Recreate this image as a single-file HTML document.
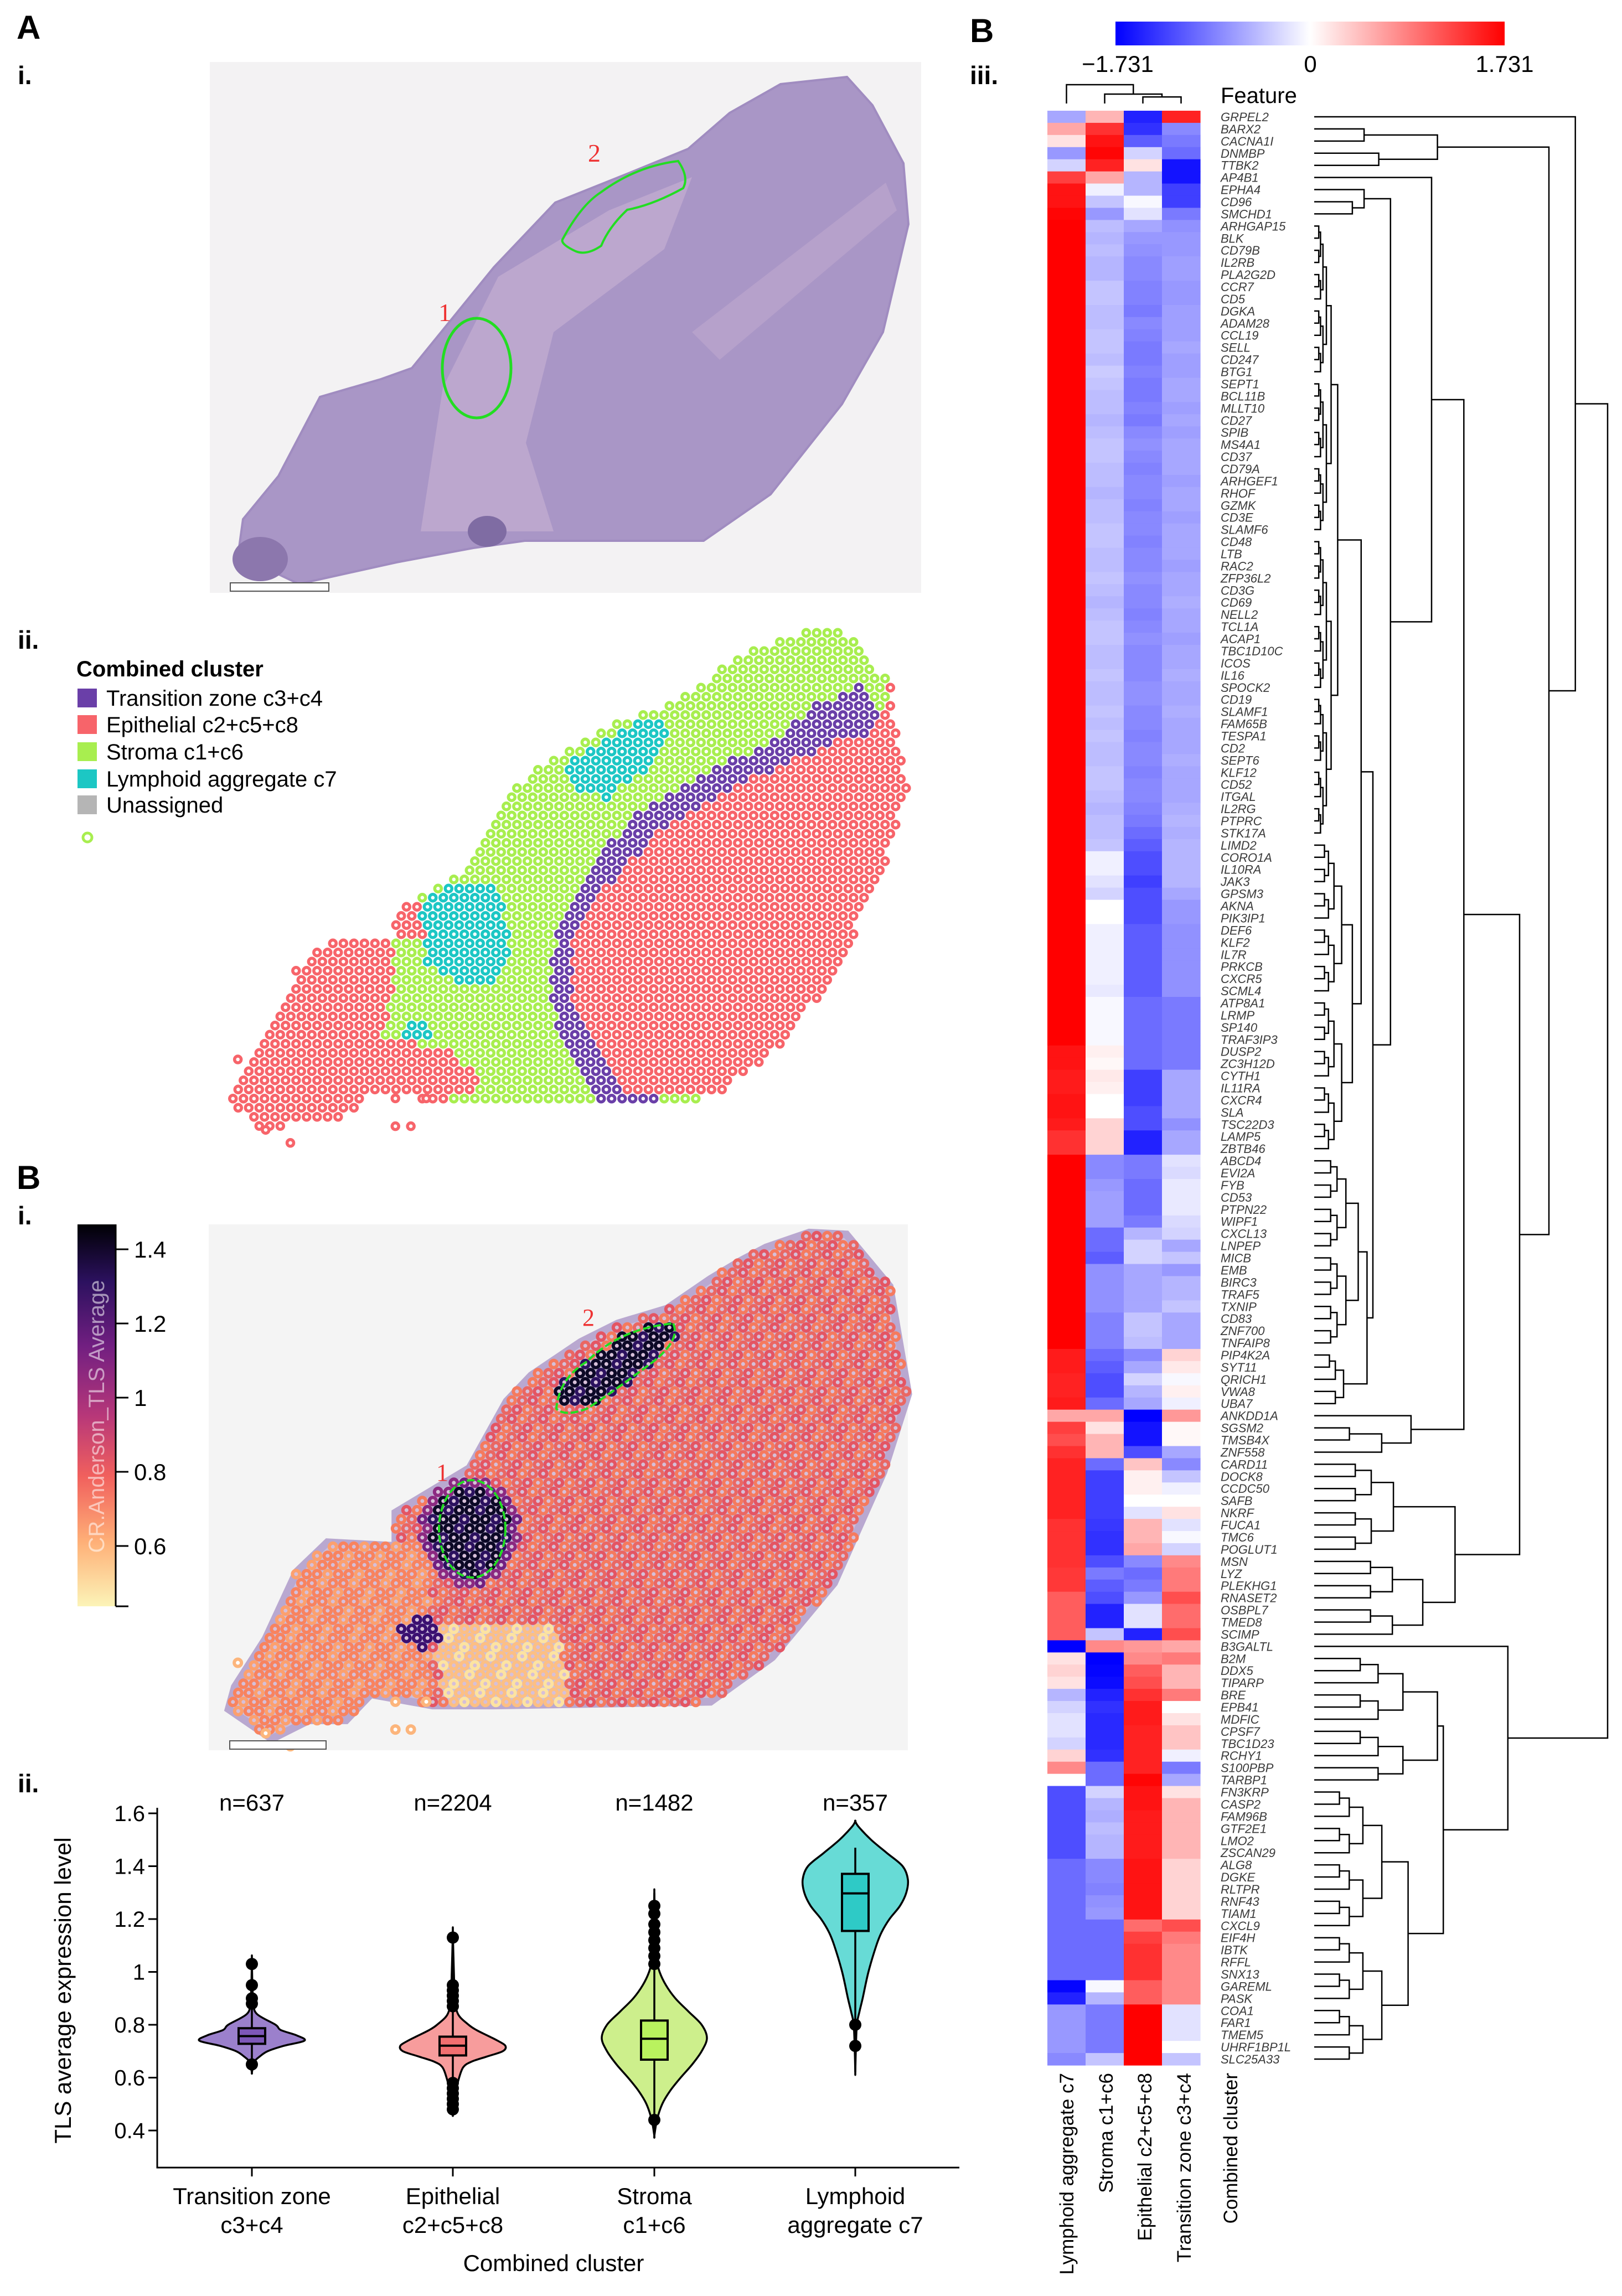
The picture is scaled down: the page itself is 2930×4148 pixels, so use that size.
<!DOCTYPE html>
<html><head><meta charset="utf-8">
<style>
html,body{margin:0;padding:0;background:#fff;}
svg{display:block;font-family:"Liberation Sans",Arial,sans-serif;}
</style></head>
<body>
<svg id="fig" xmlns="http://www.w3.org/2000/svg" width="2930" height="4148" viewBox="0 0 2930 4148">
<defs>
<linearGradient id="bwr" x1="0" x2="1" y1="0" y2="0">
<stop offset="0" stop-color="#0000ff"/><stop offset="0.5" stop-color="#ffffff"/><stop offset="1" stop-color="#ff0000"/>
</linearGradient>
<linearGradient id="magma" x1="0" x2="0" y1="0" y2="1">
<stop offset="0" stop-color="#000004"/><stop offset="0.15" stop-color="#2c115f"/><stop offset="0.32" stop-color="#721f81"/><stop offset="0.5" stop-color="#b73779"/><stop offset="0.66" stop-color="#f1605d"/><stop offset="0.83" stop-color="#feaf77"/><stop offset="1" stop-color="#fcf4b8"/>
</linearGradient>
</defs>

<text x="30" y="70" font-size="60" font-weight="bold">A</text>
<text x="32" y="152" font-size="46" font-weight="bold">i.</text>
<text x="32" y="1172" font-size="46" font-weight="bold">ii.</text>
<text x="30" y="2148" font-size="60" font-weight="bold">B</text>
<text x="32" y="2212" font-size="46" font-weight="bold">i.</text>
<text x="32" y="3238" font-size="46" font-weight="bold">ii.</text>
<text x="1752" y="76" font-size="60" font-weight="bold">B</text>
<text x="1752" y="152" font-size="46" font-weight="bold">iii.</text>

<g id="he">
<rect x="379" y="112" width="1285" height="959" fill="#f3f2f3"/>
<polygon id="tissueA" fill="#a996c6" stroke="#a08cc0" stroke-width="4"
points="1530,139 1576,190 1632,295 1641,405 1595,600 1521,730 1392,893 1271,977 948,977 855,990 716,1016 540,1055 430,1003 439,938 503,860 578,717 688,685 744,665 818,574 892,483 1003,366 1133,314 1243,269 1318,204 1410,152"/>
<path d="M760,960 L800,700 L900,500 L1100,380 L1250,320 L1200,450 L1000,600 L950,800 L1000,960 Z" fill="#c4aed2" opacity="0.7"/>
<path d="M1250,600 L1600,330 L1620,380 L1300,650 Z" fill="#c4acd0" opacity="0.5"/>
<ellipse cx="470" cy="1010" rx="50" ry="40" fill="#8c77ad"/>
<ellipse cx="880" cy="960" rx="35" ry="28" fill="#7f6ca3"/>
<ellipse cx="861" cy="665" rx="62" ry="90" fill="none" stroke="#22dd22" stroke-width="5"/>
<path d="M1225,291 Q1245,320 1234,340 Q1180,370 1133,379 Q1100,410 1086,444 Q1060,462 1040,454 Q1010,440 1017,431 Q1050,370 1086,347 Q1150,300 1225,291 Z" fill="none" stroke="#22dd22" stroke-width="4"/>
<text x="792" y="580" font-size="46" fill="#e33" font-family="Liberation Serif">1</text>
<text x="1062" y="292" font-size="46" fill="#e33" font-family="Liberation Serif">2</text>
<rect x="416" y="1053" width="178" height="15" fill="#fff" stroke="#555" stroke-width="2"/>
</g>

<g>
<text x="138" y="1222" font-size="40" font-weight="bold">Combined cluster</text>
<rect x="140" y="1244" width="35" height="34" fill="#6a3fa8"/>
<text x="192" y="1275" font-size="40">Transition zone c3+c4</text>
<rect x="140" y="1292" width="35" height="34" fill="#f7646a"/>
<text x="192" y="1323" font-size="40">Epithelial c2+c5+c8</text>
<rect x="140" y="1341" width="35" height="34" fill="#a8ee4f"/>
<text x="192" y="1372" font-size="40">Stroma c1+c6</text>
<rect x="140" y="1390" width="35" height="34" fill="#1cc7c4"/>
<text x="192" y="1421" font-size="40">Lymphoid aggregate c7</text>
<rect x="140" y="1437" width="35" height="34" fill="#b5b5b5"/>
<text x="192" y="1468" font-size="40">Unassigned</text>
<circle cx="158" cy="1513" r="8" fill="#fff" stroke="#a8ee4f" stroke-width="5"/>
</g>
<g id="spotsA"></g>

<rect x="377" y="2212" width="1263" height="950" fill="#f4f4f4"/>
<g id="spotsB"></g>
<ellipse cx="853" cy="2762" rx="60" ry="88" fill="none" stroke="#22dd22" stroke-width="4" stroke-dasharray="14 5"/>
<path d="M1216,2391 Q1230,2420 1180,2460 Q1100,2520 1060,2545 Q1020,2560 1005,2545 Q1010,2490 1060,2460 Q1120,2400 1216,2391 Z" fill="none" stroke="#22dd22" stroke-width="4" stroke-dasharray="14 5"/>
<text x="788" y="2675" font-size="44" fill="#e33" font-family="Liberation Serif">1</text>
<text x="1052" y="2395" font-size="44" fill="#e33" font-family="Liberation Serif">2</text>
<rect x="415" y="3145" width="174" height="15" fill="#fff" stroke="#555" stroke-width="2"/>
<g>
<rect x="140" y="2212" width="69" height="690" fill="url(#magma)"/>
<text transform="translate(188,2559) rotate(-90)" text-anchor="middle" font-size="40" fill="#ffffff" fill-opacity="0.55">CR.Anderson_TLS Average</text>
<line x1="209" y1="2212" x2="209" y2="2902" stroke="#000" stroke-width="3"/>
<g id="cbTicks"></g>
</g>

<g id="violin"></g>

<g>
<rect x="2015" y="39" width="703" height="43" fill="url(#bwr)"/>
<text x="2019" y="130" font-size="42" text-anchor="middle">−1.731</text>
<text x="2367" y="130" font-size="42" text-anchor="middle">0</text>
<text x="2718" y="130" font-size="42" text-anchor="middle">1.731</text>
</g>
<text x="2205" y="186" font-size="40">Feature</text>
<g id="heat"></g>
<g id="rowDendro"></g>
<g id="colDendro"></g>
<g id="colLabels"></g>
</svg>

<script>
const NS='http://www.w3.org/2000/svg';
function mk(tag,attrs,parent){const e=document.createElementNS(NS,tag);for(const k in attrs)e.setAttribute(k,attrs[k]);parent.appendChild(e);return e;}

const genes=["GRPEL2","BARX2","CACNA1I","DNMBP","TTBK2","AP4B1","EPHA4","CD96","SMCHD1","ARHGAP15","BLK","CD79B","IL2RB","PLA2G2D","CCR7","CD5","DGKA","ADAM28","CCL19","SELL","CD247","BTG1","SEPT1","BCL11B","MLLT10","CD27","SPIB","MS4A1","CD37","CD79A","ARHGEF1","RHOF","GZMK","CD3E","SLAMF6","CD48","LTB","RAC2","ZFP36L2","CD3G","CD69","NELL2","TCL1A","ACAP1","TBC1D10C","ICOS","IL16","SPOCK2","CD19","SLAMF1","FAM65B","TESPA1","CD2","SEPT6","KLF12","CD52","ITGAL","IL2RG","PTPRC","STK17A","LIMD2","CORO1A","IL10RA","JAK3","GPSM3","AKNA","PIK3IP1","DEF6","KLF2","IL7R","PRKCB","CXCR5","SCML4","ATP8A1","LRMP","SP140","TRAF3IP3","DUSP2","ZC3H12D","CYTH1","IL11RA","CXCR4","SLA","TSC22D3","LAMP5","ZBTB46","ABCD4","EVI2A","FYB","CD53","PTPN22","WIPF1","CXCL13","LNPEP","MICB","EMB","BIRC3","TRAF5","TXNIP","CD83","ZNF700","TNFAIP8","PIP4K2A","SYT11","QRICH1","VWA8","UBA7","ANKDD1A","SGSM2","TMSB4X","ZNF558","CARD11","DOCK8","CCDC50","SAFB","NKRF","FUCA1","TMC6","POGLUT1","MSN","LYZ","PLEKHG1","RNASET2","OSBPL7","TMED8","SCIMP","B3GALTL","B2M","DDX5","TIPARP","BRE","EPB41","MDFIC","CPSF7","TBC1D23","RCHY1","S100PBP","TARBP1","FN3KRP","CASP2","FAM96B","GTF2E1","LMO2","ZSCAN29","ALG8","DGKE","RLTPR","RNF43","TIAM1","CXCL9","EIF4H","IBTK","RFFL","SNX13","GAREML","PASK","COA1","FAR1","TMEM5","UHRF1BP1L","SLC25A33"];
const heatColumns=["Lymphoid aggregate c7","Stroma c1+c6","Epithelial c2+c5+c8","Transition zone c3+c4"];
const valsLymphoid=[-0.6,0.6,0.2,-0.7,-0.3,1.3,1.6,1.6,1.7,
1.73,1.73,1.73,1.73,1.73,1.73,1.73,1.73,1.73,1.73,1.73,1.73,1.73,1.73,1.73,1.73,1.73,1.73,1.73,1.73,1.73,1.73,1.73,1.73,1.73,1.73,1.73,1.73,1.73,1.73,1.73,1.73,1.73,1.73,1.73,1.73,1.73,1.73,1.73,1.73,1.73,1.73,1.73,1.73,1.73,1.73,1.73,1.73,1.73,1.73,1.73,
1.73,1.73,1.73,1.73,1.73,1.73,1.73,1.73,1.73,1.73,1.73,1.73,1.73,1.73,1.73,1.73,1.73,
1.6,1.6,1.55,1.55,1.6,1.6,1.55,1.4,1.4,
1.73,1.73,1.73,1.73,1.73,1.73,1.73,1.73,1.73,1.73,1.73,1.73,1.73,1.73,1.73,1.73,
1.55,1.55,1.5,1.5,1.55,
0.6,1.3,1.2,1.4,1.5,1.5,1.5,1.5,1.5,1.4,1.4,1.4,1.4,1.35,1.35,1.1,1.1,1.1,1.1,
-1.73,0.2,0.3,0.2,-0.5,-0.3,-0.2,-0.2,-0.3,0.3,0.8,0.0,
-1.2,-1.2,-1.2,-1.2,-1.2,-1.2,-1.0,-1.0,-1.0,-1.0,-1.0,-1.0,-1.0,-1.0,-1.0,-1.0,-1.7,-1.5,-0.7,-0.7,-0.7,-0.7,-0.8];
const valsStroma=[0.5,1.4,1.6,1.7,1.5,0.6,-0.1,-0.4,-0.7,
-0.45,-0.5,-0.45,-0.5,-0.5,-0.4,-0.4,-0.45,-0.45,-0.4,-0.4,-0.45,-0.35,-0.4,-0.45,-0.45,-0.5,-0.45,-0.4,-0.4,-0.45,-0.45,-0.5,-0.45,-0.45,-0.4,-0.4,-0.45,-0.45,-0.4,-0.45,-0.5,-0.45,-0.4,-0.4,-0.45,-0.45,-0.4,-0.45,-0.45,-0.4,-0.45,-0.4,-0.45,-0.45,-0.4,-0.4,-0.45,-0.5,-0.45,-0.45,
-0.4,-0.1,-0.1,-0.2,-0.3,0.0,0.0,-0.1,-0.1,-0.1,-0.1,-0.1,-0.15,-0.05,-0.05,-0.05,-0.05,0.1,0.05,0.15,0.1,0.0,0.0,0.3,0.3,0.3,
-0.8,-0.8,-0.7,-0.65,-0.65,-0.65,-1.0,-1.0,-1.1,-0.75,-0.75,-0.75,-0.75,-0.85,-0.85,-0.85,-1.0,-1.1,-1.2,-1.2,-1.0,
0.6,0.2,0.5,0.5,-1.0,-1.3,-1.3,-1.3,-1.3,-1.35,-1.4,-1.4,-1.2,-0.9,-1.1,-1.2,-1.5,-1.5,-0.4,
0.8,-1.73,-1.7,-1.65,-1.5,-1.4,-1.45,-1.45,-1.45,-1.4,-1.0,-1.0,
-0.3,-0.5,-0.55,-0.45,-0.5,-0.5,-0.8,-0.8,-0.85,-0.75,-0.7,-1.0,-1.0,-1.0,-1.0,-1.0,-0.05,-0.5,-0.9,-0.9,-0.9,-0.9,-0.4];
const valsEpithelial=[-1.5,-1.4,-1.1,-0.3,0.2,-0.5,-0.5,-0.05,-0.2,
-0.6,-0.7,-0.75,-0.8,-0.8,-0.85,-0.85,-0.9,-0.8,-0.85,-0.9,-0.9,-0.85,-0.9,-0.9,-0.85,-0.9,-0.8,-0.75,-0.8,-0.85,-0.8,-0.8,-0.85,-0.8,-0.8,-0.85,-0.8,-0.8,-0.75,-0.8,-0.8,-0.85,-0.8,-0.75,-0.8,-0.8,-0.8,-0.75,-0.75,-0.8,-0.8,-0.85,-0.8,-0.8,-0.85,-0.8,-0.8,-0.85,-0.9,-1.0,
-1.1,-1.2,-1.2,-1.3,-1.2,-1.2,-1.2,-1.1,-1.1,-1.1,-1.1,-1.1,-1.1,-1.0,-1.0,-1.0,-1.0,-1.0,-1.0,-1.3,-1.3,-1.3,-1.2,-1.2,-1.5,-1.5,
-0.9,-0.9,-1.0,-1.0,-1.0,-0.9,-0.5,-0.3,-0.3,-0.6,-0.6,-0.6,-0.6,-0.4,-0.4,-0.45,-0.8,-0.6,-0.3,-0.5,-0.6,
-1.73,-1.6,-1.6,-1.2,0.4,0.1,0.1,0.0,-0.2,0.5,0.5,0.6,-0.8,-1.0,-0.9,-0.7,-0.2,-0.2,-1.5,
0.7,0.8,1.1,1.2,1.4,1.55,1.55,1.5,1.5,1.5,1.5,1.7,
1.6,1.6,1.55,1.55,1.55,1.55,1.6,1.6,1.6,1.6,1.6,1.0,1.3,1.4,1.4,1.4,1.1,1.1,1.73,1.73,1.73,1.73,1.73];
const valsTransition=[1.5,-0.8,-0.9,-1.0,-1.6,-1.6,-1.3,-1.3,-0.9,
-0.75,-0.7,-0.7,-0.65,-0.65,-0.7,-0.7,-0.65,-0.65,-0.65,-0.6,-0.65,-0.65,-0.6,-0.6,-0.65,-0.6,-0.65,-0.6,-0.6,-0.6,-0.65,-0.6,-0.6,-0.65,-0.6,-0.6,-0.6,-0.65,-0.6,-0.6,-0.55,-0.6,-0.6,-0.65,-0.6,-0.6,-0.55,-0.6,-0.6,-0.55,-0.6,-0.6,-0.6,-0.55,-0.6,-0.6,-0.6,-0.55,-0.5,-0.55,
-0.5,-0.5,-0.5,-0.5,-0.6,-0.7,-0.7,-0.75,-0.75,-0.75,-0.75,-0.75,-0.75,-0.9,-0.9,-0.9,-0.9,-0.9,-0.9,-0.6,-0.6,-0.6,-0.6,-0.75,-0.6,-0.6,
-0.2,-0.25,-0.15,-0.15,-0.15,-0.25,-0.3,-0.6,-0.4,-0.7,-0.5,-0.5,-0.4,-0.6,-0.6,-0.6,0.3,0.15,-0.05,0.1,-0.1,
0.7,0.05,0.05,-0.6,-0.8,-0.4,-0.1,0.0,0.2,-0.2,-0.05,-0.3,0.8,0.9,0.9,1.2,1.0,1.0,1.2,
0.6,0.9,0.5,0.5,0.9,0.0,0.2,0.4,0.4,-0.1,-0.9,-0.6,
0.2,0.5,0.5,0.5,0.5,0.5,0.3,0.3,0.3,0.3,0.3,1.2,0.9,0.8,0.8,0.8,0.8,0.8,-0.2,-0.2,-0.2,0.0,-0.4];
const heatMax=1.731;

const violinCategories=["Transition zone|c3+c4","Epithelial|c2+c5+c8","Stroma|c1+c6","Lymphoid|aggregate c7"];
const violinCounts=["n=637","n=2204","n=1482","n=357"];
const yTicks=[0.4,0.6,0.8,1.0,1.2,1.4,1.6];
const yTickLabels=["0.4","0.6","0.8","1","1.2","1.4","1.6"];
const densY_transition=[0.62,0.66,0.68,0.70,0.72,0.74,0.76,0.78,0.80,0.84,0.88,0.95,1.05];
const densW_transition=[0,0.05,0.15,0.3,0.6,1.0,0.85,0.55,0.45,0.1,0.03,0.01,0];
const densY_epithelial=[0.46,0.5,0.55,0.6,0.64,0.66,0.68,0.70,0.72,0.74,0.76,0.78,0.80,0.84,0.9,1.0,1.15];
const densW_epithelial=[0,0.03,0.06,0.12,0.2,0.35,0.65,0.95,1.0,0.85,0.65,0.45,0.3,0.1,0.04,0.02,0];
const densY_stroma=[0.38,0.44,0.5,0.55,0.6,0.65,0.7,0.75,0.8,0.85,0.9,0.95,1.0,1.05,1.1,1.2,1.3];
const densW_stroma=[0,0.05,0.15,0.3,0.5,0.72,0.9,1.0,0.9,0.65,0.4,0.22,0.1,0.04,0.02,0.01,0];
const densY_lymphoid=[0.62,0.7,0.8,0.85,0.9,1.0,1.1,1.15,1.2,1.25,1.3,1.35,1.4,1.45,1.5,1.55,1.57];
const densW_lymphoid=[0,0.01,0.03,0.08,0.14,0.25,0.4,0.5,0.65,0.85,0.97,1.0,0.9,0.6,0.3,0.06,0];
const boxQ1=[0.728,0.684,0.668,1.155];
const boxMedian=[0.757,0.721,0.747,1.297];
const boxQ3=[0.787,0.755,0.816,1.371];
const whiskerLo=[0.62,0.46,0.38,0.62];
const whiskerHi=[1.05,1.15,1.30,1.47];
const outliers_transition=[1.03,0.95,0.90,0.88,0.65];
const outliers_epithelial=[1.13,0.95,0.93,0.91,0.89,0.87,0.58,0.56,0.54,0.52,0.50,0.48];
const outliers_stroma=[1.25,1.22,1.18,1.15,1.12,1.09,1.06,1.03,0.44];
const outliers_lymphoid=[0.80,0.72];

const cbTickValues=[1.4,1.2,1.0,0.8,0.6];
const cbTickLabels=["1.4","1.2","1","0.8","0.6"];

const heat=document.getElementById('heat');
const hmLeft=1892, hmTop=200, hmBottom=3731, colW=69;
const rowH=(hmBottom-hmTop)/genes.length;
const rowY=i=>hmTop+i*rowH;
const colX=j=>hmLeft+j*colW;
function bwr(v){
  let t=Math.max(-1,Math.min(1,v/heatMax));
  if(t>=0){const c=Math.round(255*(1-t));return `rgb(255,${c},${c})`;}
  const c=Math.round(255*(1+t));return `rgb(${c},${c},255)`;
}
const heatSeries=[valsLymphoid,valsStroma,valsEpithelial,valsTransition];
heatSeries.forEach((vals,j)=>{
  vals.forEach((v,i)=>{
    const r=mk('rect',{x:colX(j),y:rowY(i),width:colW+0.6,height:rowH+0.6,fill:bwr(v)},heat);
    
    
  });
});
genes.forEach((g,i)=>{
  const t=mk('text',{x:2205,y:rowY(i)+rowH/2+8,'font-size':22,'font-style':'italic',fill:'#3a3a3a'},heat);
  t.textContent=g;
  
  
});
const colLabels=document.getElementById('colLabels');
const colLabelX=[1927,1998,2068,2139];
heatColumns.forEach((c,j)=>{
  const t=mk('text',{transform:`translate(${colLabelX[j]+12},3745) rotate(-90)`,'text-anchor':'end','font-size':35},colLabels);
  t.textContent=c;
  
  
});
{
  const t=mk('text',{transform:'translate(2235,3745) rotate(-90)','text-anchor':'end','font-size':35},colLabels);
  t.textContent='Combined cluster';
  
  
}

function bal(a,b,h){ if(a===b) return a; const m=Math.floor((a+b)/2); return {h:h,k:[bal(a,m,h*0.72),bal(m+1,b,h*0.72)]}; }
const N=(h,a,b)=>({h:h,k:[a,b]});
const rowTree=N(100,
  N(89,0,
    N(80, N(42,N(17,1,2),N(22,3,4)),
      N(70,
        N(51,
          N(40,5, N(26, N(17,6,N(13,7,8)), N(20, N(16,bal(9,59,8),bal(60,85,13)), N(18,bal(86,101,15),bal(102,106,10))))),
          N(33,107,N(23,N(12,108,109),110))),
        N(48,bal(111,118,27),bal(119,125,37))))),
  N(66,126, N(44,bal(127,137,42),bal(138,160,32))));
const rd=document.getElementById('rowDendro');
const hx=h=>2374+h*5.3;
function drawNode(n){
  if(typeof n==='number') return {x:hx(0),y:rowY(n)+rowH/2};
  const a=drawNode(n.k[0]), b=drawNode(n.k[1]); const x=hx(n.h);
  const p=mk('path',{d:`M${a.x},${a.y}H${x}V${b.y}H${b.x}`,fill:'none',stroke:'#000','stroke-width':2.5},rd);
  
  
  return {x:x,y:(a.y+b.y)/2};
}
drawNode(rowTree);

const colTree=N(1.0,0,N(0.5,1,N(0.35,2,3)));
const cd=document.getElementById('colDendro');
const cy=h=>187-h*34;
function drawCol(n){
  if(typeof n==='number') return {x:colX(n)+colW/2,y:cy(0)};
  const a=drawCol(n.k[0]), b=drawCol(n.k[1]); const y=cy(n.h);
  const p=mk('path',{d:`M${a.x},${a.y}V${y}H${b.x}V${b.y}`,fill:'none',stroke:'#000','stroke-width':2.5},cd);
  
  
  return {x:(a.x+b.x)/2,y:y};
}
drawCol(colTree);

const vg=document.getElementById('violin');
const yv=v=>3276+(1.6-v)*477.5;
const catX=[455,818,1182,1545];
const vFill=["#9b80cc","#f79c9c","#cdef8c","#67dbd6"];
const bFill=["#7d57b8","#f26f70","#b9f25e","#2ecac6"];
const densYs=[densY_transition,densY_epithelial,densY_stroma,densY_lymphoid];
const densWs=[densW_transition,densW_epithelial,densW_stroma,densW_lymphoid];
const outs=[outliers_transition,outliers_epithelial,outliers_stroma,outliers_lymphoid];
const halfMax=95, boxHalf=24;
{
  const ax=mk('path',{d:`M284,${yv(1.6)-10}V3916H1733`,fill:'none',stroke:'#000','stroke-width':3},vg);
  
  
}
yTicks.forEach((v,i)=>{
  const l=mk('line',{x1:268,x2:284,y1:yv(v),y2:yv(v),stroke:'#000','stroke-width':3},vg);
  
  
  const t=mk('text',{x:262,y:yv(v)+14,'text-anchor':'end','font-size':40},vg);
  t.textContent=yTickLabels[i];
  
  
});
{
  const t=mk('text',{transform:'translate(128,3596) rotate(-90)','text-anchor':'middle','font-size':42},vg);
  t.textContent='TLS average expression level';
  
  
  const t2=mk('text',{x:1000,y:4103,'text-anchor':'middle','font-size':42},vg);
  t2.textContent='Combined cluster';
  
  
}
violinCategories.forEach((c,i)=>{
  const cx=catX[i];
  const ys=densYs[i], ws=densWs[i];
  let pts=[];
  for(let k=0;k<ys.length;k++) pts.push([cx+ws[k]*halfMax,yv(ys[k])]);
  for(let k=ys.length-1;k>=0;k--) pts.push([cx-ws[k]*halfMax,yv(ys[k])]);
  let d=`M${pts[0][0]},${pts[0][1]}`;
  const n=pts.length;
  for(let k=0;k<n;k++){
    const p0=pts[(k-1+n)%n],p1=pts[k],p2=pts[(k+1)%n],p3=pts[(k+2)%n];
    d+=`C${p1[0]+(p2[0]-p0[0])/6},${p1[1]+(p2[1]-p0[1])/6} ${p2[0]-(p3[0]-p1[0])/6},${p2[1]-(p3[1]-p1[1])/6} ${p2[0]},${p2[1]}`;
  }
  const vp=mk('path',{d:d,fill:vFill[i],stroke:'#000','stroke-width':3.5},vg);
  
  
  const wl=mk('line',{x1:cx,x2:cx,y1:yv(whiskerHi[i]),y2:yv(whiskerLo[i]),stroke:'#000','stroke-width':3.5},vg);
  
  
  outs[i].forEach(o=>{
    const c2=mk('circle',{cx:cx,cy:yv(o),r:11,fill:'#000'},vg);
    
    
  });
  const bx=mk('rect',{x:cx-boxHalf,y:yv(boxQ3[i]),width:boxHalf*2,height:yv(boxQ1[i])-yv(boxQ3[i]),fill:bFill[i],stroke:'#000','stroke-width':4},vg);
  
  
  const md=mk('line',{x1:cx-boxHalf,x2:cx+boxHalf,y1:yv(boxMedian[i]),y2:yv(boxMedian[i]),stroke:'#000','stroke-width':4},vg);
  
  
  const xt=mk('line',{x1:cx,x2:cx,y1:3916,y2:3932,stroke:'#000','stroke-width':3},vg);
  
  
  const parts=c.split('|');
  parts.forEach((p,k)=>{
    const t=mk('text',{x:cx,y:3982+k*52,'text-anchor':'middle','font-size':42},vg);
    t.textContent=p;
    
    
  });
  const nt=mk('text',{x:cx,y:3271,'text-anchor':'middle','font-size':42},vg);
  nt.textContent=violinCounts[i];
  
  
});

const cbg=document.getElementById('cbTicks');
const cbY=v=>2257+(1.4-v)*670;
cbTickValues.forEach((v,i)=>{
  const l=mk('line',{x1:209,x2:232,y1:cbY(v),y2:cbY(v),stroke:'#000','stroke-width':3},cbg);
  
  
  const t=mk('text',{x:242,y:cbY(v)+15,'font-size':42},cbg);
  t.textContent=cbTickLabels[i];
  
  
});
{
  const l=mk('line',{x1:209,x2:232,y1:2902,y2:2902,stroke:'#000','stroke-width':3},cbg);
  
  
}

const Z=(p,oy)=>[p[0]*1.116,oy+p[1]*0.67];
const shapeZ=[[1310,55],[1370,60],[1440,200],[1470,490],[1430,700],[1350,1000],[1250,1200],[1150,1320],[980,1325],[800,1330],[700,1330],[600,1300],[560,1370],[500,1370],[440,1420],[370,1340],[380,1280],[430,1150],[480,970],[530,890],[640,900],[640,810],[700,750],[760,690],[820,510],[860,440],[940,350],[1000,300],[1080,260],[1150,180],[1200,130],[1240,95]];
const redRightZ=[[1440,200],[1470,490],[1430,700],[1350,1000],[1250,1200],[1150,1320],[1010,1320],[970,1200],[930,1060],[925,900],[975,760],[1030,660],[1090,570],[1180,490],[1280,410],[1360,350],[1420,330]];
const purpleZ=[[1400,200],[1440,330],[1330,380],[1230,450],[1130,530],[1060,620],[1000,720],[960,850],[970,1000],[1010,1150],[1070,1330],[960,1330],[900,1150],[890,950],[920,800],[960,680],[1040,540],[1150,430],[1250,360],[1330,250]];
const teal1Z=[[720,730],[800,730],[830,880],[810,1000],[760,1030],[690,950],[680,820]];
const teal2Z=[[1040,295],[1095,320],[1060,420],[980,510],[930,500],[920,420],[980,350]];
const teal3Z=[[650,1100],[700,1100],[700,1170],[650,1170]];
const redLeftZ=[[530,885],[640,895],[640,1000],[620,1150],[730,1190],[780,1280],[720,1330],[600,1300],[560,1370],[500,1370],[440,1420],[370,1340],[380,1280],[430,1150],[480,970]];
const redSmallZ=[[635,800],[690,800],[690,880],[635,880]];
const tls2Z=[[1090,290],[1100,330],[1050,420],[970,520],[910,530],[900,470],[950,400],[1020,320]];
const yellowZ=[[700,1100],[900,1100],[920,1320],[720,1330]];
function inPoly(x,y,P){let c=false;for(let i=0,j=P.length-1;i<P.length;j=i++){const xi=P[i][0],yi=P[i][1],xj=P[j][0],yj=P[j][1];if(((yi>y)!==(yj>y))&&(x<(xj-xi)*(y-yi)/(yj-yi)+xi))c=!c;}return c;}
const sA=document.getElementById('spotsA'), sB=document.getElementById('spotsB');
{
  const pts=shapeZ.map(p=>Z(p,2190).join(',')).join(' ');
  const u=mk('polygon',{points:pts,fill:'#cbbfdc',stroke:'#b9a8d0','stroke-width':14},sB);
  
  
}
const dx=19/1.116, dy=16.5/0.67;
let row=0;
for(let zy=40; zy<1440; zy+=dy, row++){
  let col=0;
  for(let zx=360+(row%2?dx/2:0); zx<1480; zx+=dx, col++){
    if(!inPoly(zx,zy,shapeZ)) continue;
    let cA='#a8ee4f';
    if(inPoly(zx,zy,teal1Z)||inPoly(zx,zy,teal2Z)||inPoly(zx,zy,teal3Z)) cA='#1cc7c4';
    else if(inPoly(zx,zy,redRightZ)||inPoly(zx,zy,redLeftZ)||inPoly(zx,zy,redSmallZ)) cA='#f7646a';
    else if(inPoly(zx,zy,purpleZ)) cA='#6a3fa8';
    const pa=Z([zx,zy],1100);
    const ca=mk('circle',{cx:pa[0].toFixed(1),cy:pa[1].toFixed(1),r:6,fill:'#fff',stroke:cA,'stroke-width':5.5},sA);
    
    
    const alt=(row+col)%3;
    let cB= alt===0?'#e45563':(alt===1?'#f57a5e':'#ea6763');
    const e1=((zx-760)/62)**2+((zy-860)/125)**2, e1h=((zx-760)/85)**2+((zy-860)/150)**2;
    const e3=((zx-680)/38)**2+((zy-1135)/38)**2;
    if(e1<1||inPoly(zx,zy,tls2Z)) cB= alt===1?'#2c115f':'#0c0826';
    else if(e3<1) cB='#3b0f70';
    else if(e1h<1) cB= alt===0?'#721f81':'#8c2981';
    else if(inPoly(zx,zy,yellowZ)) cB= alt===0?'#fde3a1':'#fcbf84';
    else if(zx<700&&zy>900) cB= alt===0?'#fca06e':'#f8835f';
    const pb=Z([zx,zy],2190);
    const cb=mk('circle',{cx:pb[0].toFixed(1),cy:pb[1].toFixed(1),r:6.5,fill:'#d6bfd8',stroke:cB,'stroke-width':6},sB);
    
    
  }
}
const isolatedZ=[[385,1215],[430,1405],[470,1440],[640,1395],[665,1395],[640,1320],[690,1320]];
isolatedZ.forEach(p=>{
  const pa=Z(p,1100);
  const c=mk('circle',{cx:pa[0],cy:pa[1],r:6,fill:'#fff',stroke:'#f7646a','stroke-width':5.5},sA);
  
  
  const pb=Z(p,2190);
  const c2=mk('circle',{cx:pb[0],cy:pb[1],r:6.5,fill:'#fff',stroke:'#fcb57c','stroke-width':6},sB);
  
  
});
</script>
</body></html>
